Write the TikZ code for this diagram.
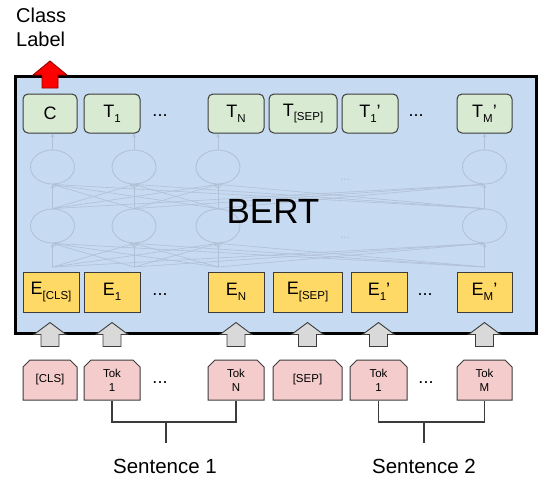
\documentclass[tikz,border=0pt]{standalone}
\usepackage{fontspec}
\setmainfont{Liberation Sans}
\usetikzlibrary{shapes.geometric,shapes.misc,arrows.meta,calc,positioning}

\definecolor{bertblue}{RGB}{198,218,241}
\definecolor{outgreen}{RGB}{217,234,211}
\definecolor{embyellow}{RGB}{255,217,102}
\definecolor{tokpink}{RGB}{244,204,204}
\definecolor{arrowgray}{RGB}{217,217,217}
\definecolor{netgray}{RGB}{176,192,213}
\definecolor{boxedge}{RGB}{60,60,60}
\definecolor{darkred}{RGB}{150,0,0}

\newcommand{\lowsub}[1]{\raisebox{-0.5ex}{\fontsize{11.5}{11.5}\selectfont #1}}

\tikzset{
  pics/blockup/.style n args={4}{code={
    \path[pic actions] (-#1,0) -- (-#1,-#3) -- (-#2,-#3) -- (0,-#3-#4)
      -- (#2,-#3) -- (#1,-#3) -- (#1,0) -- cycle;
  }}
}

\begin{document}
\begin{tikzpicture}[x=1pt,y=-1pt,
    bertbox/.style={draw=black, line width=3pt, fill=bertblue, minimum width=521pt, minimum height=257pt, inner sep=0pt},
    outbox/.style={draw=boxedge, fill=outgreen, rounded corners=5pt, line width=1pt, minimum height=39pt, inner sep=0pt, font=\fontsize{18}{20}\selectfont},
    embbox/.style={draw=boxedge, fill=embyellow, line width=1pt, minimum height=40pt, inner sep=0pt, font=\fontsize{18}{20}\selectfont},
    tokbox/.style={chamfered rectangle, chamfered rectangle corners={north west,north east}, chamfered rectangle xsep=3.5pt, chamfered rectangle ysep=3.5pt, draw=boxedge, fill=tokpink, line width=1pt, minimum height=40pt, inner sep=0pt, align=center, font=\fontsize{11.5}{14}\selectfont},
    cell/.style={ellipse, draw=netgray, line width=0.8pt, minimum width=44pt, minimum height=34pt, inner sep=0pt},
    netline/.style={draw=netgray, line width=0.6pt, -{Stealth[length=4pt,width=3.5pt]}},
    bracket/.style={draw=boxedge, line width=1.1pt},
    dots/.style={font=\fontsize{18}{20}\selectfont, inner sep=0pt},
    sentence/.style={font=\fontsize{20.5}{24}\selectfont, anchor=base}
]
\useasboundingbox (0,0) rectangle (550,485);

% model
\node[bertbox] (bert) at (275.5,204.5) {};

% output row
\node[outbox, minimum width=54pt] (c) at (50,113.5) {C};
\node[outbox, minimum width=56pt] (t1) at (112,113.5) {T\lowsub{1}};
\node[dots] (tdotsa) at (160,116) {...};
\node[outbox, minimum width=56pt] (tn) at (236,113.5) {T\lowsub{N}};
\node[outbox, minimum width=68pt] (tsep) at (303,113.5) {T\lowsub{[SEP]}};
\node[outbox, minimum width=56pt] (tb1) at (370,113.5) {T\lowsub{1}'};
\node[dots] (tdotsb) at (416,116) {...};
\node[outbox, minimum width=55pt] (tbm) at (484.5,113.5) {T\lowsub{M}'};

% embedding row
\node[embbox, minimum width=56pt] (ecls) at (51,292) {E\lowsub{[CLS]}};
\node[embbox, minimum width=56pt] (e1) at (112,292) {E\lowsub{1}};
\node[dots] (edotsa) at (160,295) {...};
\node[embbox, minimum width=56pt] (en) at (236,292) {E\lowsub{N}};
\node[embbox, minimum width=69pt] (esep) at (307.5,292) {E\lowsub{[SEP]}};
\node[embbox, minimum width=56pt] (eb1) at (379,292) {E\lowsub{1}'};
\node[dots] (edotsb) at (425,295) {...};
\node[embbox, minimum width=55pt] (ebm) at (484.5,292) {E\lowsub{M}'};

% input tokens
\node[tokbox, minimum width=54pt] (tcls) at (50,380) {[CLS]};
\node[tokbox, minimum width=56pt] (tok1) at (112,380) {Tok\\1};
\node[dots] (kdotsa) at (160,383) {...};
\node[tokbox, minimum width=56pt] (tokn) at (236,380) {Tok\\N};
\node[tokbox, minimum width=69pt] (tsepin) at (307.5,380) {[SEP]};
\node[tokbox, minimum width=57pt] (tokb1) at (378.5,380) {Tok\\1};
\node[dots] (kdotsb) at (426,383) {...};
\node[tokbox, minimum width=55pt] (tokbm) at (484.5,380) {Tok\\M};

% faint network inside the model
\foreach \i/\x in {1/52.5,2/134,3/218,4/484.5}{
  \node[cell] (lo\i) at (\x,226) {};
  \node[cell] (hi\i) at (\x,167) {};
  \coordinate (in\i) at (\x,267);
}
\foreach \i in {1,...,4}
  \foreach \j in {1,...,4}{
    \draw[netline] (lo\i.north) -- (hi\j.south);
    \draw[netline] (in\i) -- (lo\j.south);
  }
\foreach \i/\t in {1/c,2/t1,3/tn,4/tbm}
  \draw[netline] (hi\i.north) -- (hi\i.north |- \t.south);
\node[font=\fontsize{12}{12}\selectfont, text=netgray] (ndotsa) at (345,180) {...};
\node[font=\fontsize{12}{12}\selectfont, text=netgray] (ndotsb) at (345,238) {...};

\node[font=\fontsize{35}{40}\selectfont] (bertlabel) at (273,211) {BERT};

% block arrows
\foreach \t in {tcls,tok1,tokn,tsepin,tokb1,tokbm}
  \pic[fill=arrowgray, draw=boxedge, line width=0.9pt] at ($(\t.north)+(0,-13)$) {blockup={9}{16}{12}{12}};
\pic[fill=red, draw=darkred, line width=0.9pt] at ($(c.north)+(0,-5.5)$) {blockup={8}{17}{13}{14}};

\node[anchor=north west, align=left, inner sep=0pt, font=\fontsize{20}{24}\selectfont] (classlabel) at (16,8) {Class\\Label};

% sentence brackets
\coordinate (s1) at (166,422);
\coordinate (s1end) at (166,443);
\coordinate (s2) at (424,422);
\coordinate (s2end) at (424,443);
\draw[bracket] (tok1.south) |- (s1) -| (tokn.south);
\draw[bracket] (s1) -- (s1end);
\draw[bracket] (tokb1.south) |- (s2) -| (tokbm.south);
\draw[bracket] (s2) -- (s2end);
\node[sentence] (sent1) at (165,473) {Sentence 1};
\node[sentence] (sent2) at (424,473) {Sentence 2};
\end{tikzpicture}
\end{document}
